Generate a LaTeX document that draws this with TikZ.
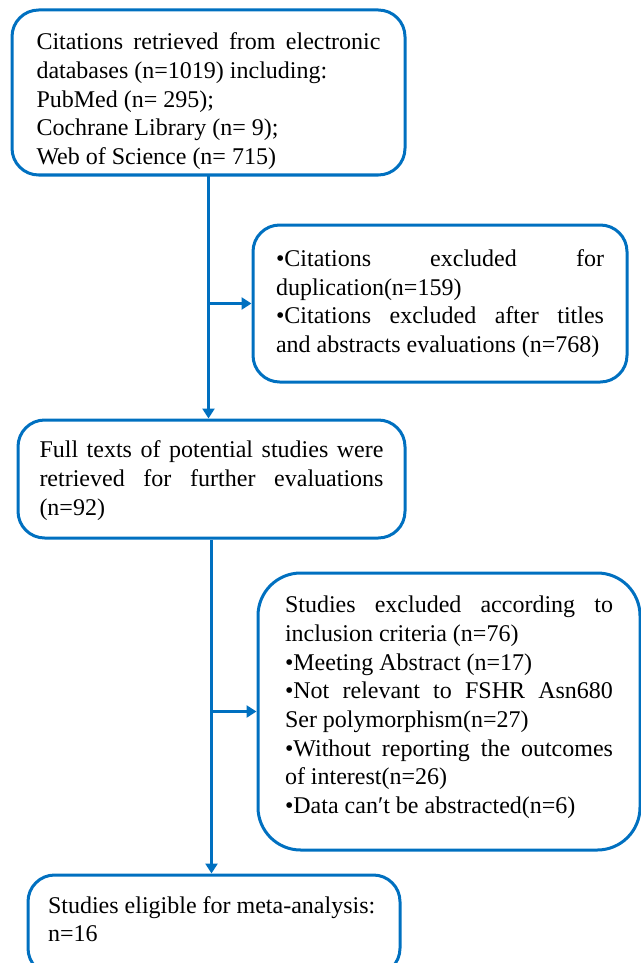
\documentclass[tikz,border=0pt]{standalone}
\usepackage{fontspec}
\setmainfont{Liberation Serif}
\usetikzlibrary{arrows.meta}
\definecolor{flowblue}{RGB}{0,112,192}
\tolerance=9999
\hbadness=10000

\begin{document}
\begin{tikzpicture}[x=0.75pt,y=-0.75pt,
  box/.style={draw=flowblue,line width=2.25pt,rounded corners=20pt,align=justify,
    font=\fontsize{18}{21.5}\selectfont,inner sep=0pt},
  widebox/.style={box,text width=258pt},
  narrowbox/.style={box,text width=246pt},
  link/.style={draw=flowblue,line width=2.25pt,-{Triangle[length=7.5pt,width=9pt]}}]
  \useasboundingbox (0,0) rectangle (641,963);
  \clip (0,0) rectangle (641,963);
  % the main column, top to bottom
  \node[widebox,minimum width=294.75pt,minimum height=123.75pt] (search) at (208.5,92.5)
    {\rule{0pt}{26pt}Citations retrieved from electronic\linebreak databases (n=1019) including:\\
     PubMed (n= 295);\\ Cochrane Library (n= 9);\\ Web of Science (n= 715)};
  \node[widebox,minimum width=290.25pt,minimum height=88.5pt] (fulltext) at (211.5,479)
    {\rule{0pt}{15pt}Full texts of potential studies were\linebreak retrieved for further evaluations\linebreak (n=92)};
  \node[box,text width=249pt,minimum width=279pt,minimum height=75pt] (final) at (214,925)
    {Studies eligible for meta-analysis:\\ n=16\rule[-9pt]{0pt}{0pt}};
  % the boxes on the right
  \node[narrowbox,minimum width=280.5pt,minimum height=117.75pt] (dupl) at (440,303.5)
    {•Citations excluded for\linebreak duplication(n=159)\\
     •Citations excluded after titles\linebreak and abstracts evaluations (n=768)};
  \node[narrowbox,rounded corners=32pt,minimum width=286.5pt,minimum height=207.75pt] (excl) at (449,711.5)
    {Studies excluded according to\linebreak inclusion criteria (n=76)\\
     •Meeting Abstract (n=17)\\
     •Not relevant to FSHR Asn680\linebreak Ser polymorphism(n=27)\\
     •Without reporting the outcomes\linebreak of interest(n=26)\\
     •Data can′t be abstracted(n=6)\rule[-10pt]{0pt}{0pt}};
  \coordinate (split1) at (search.south |- dupl.west);
  \coordinate (split2) at (fulltext.south |- excl.west);
  \draw[link] (search.south) -- (search.south |- fulltext.north);
  \draw[link] (split1) -- (dupl.west);
  \draw[link] (fulltext.south) -- (fulltext.south |- final.north);
  \draw[link] (split2) -- (excl.west);
\end{tikzpicture}
\end{document}
